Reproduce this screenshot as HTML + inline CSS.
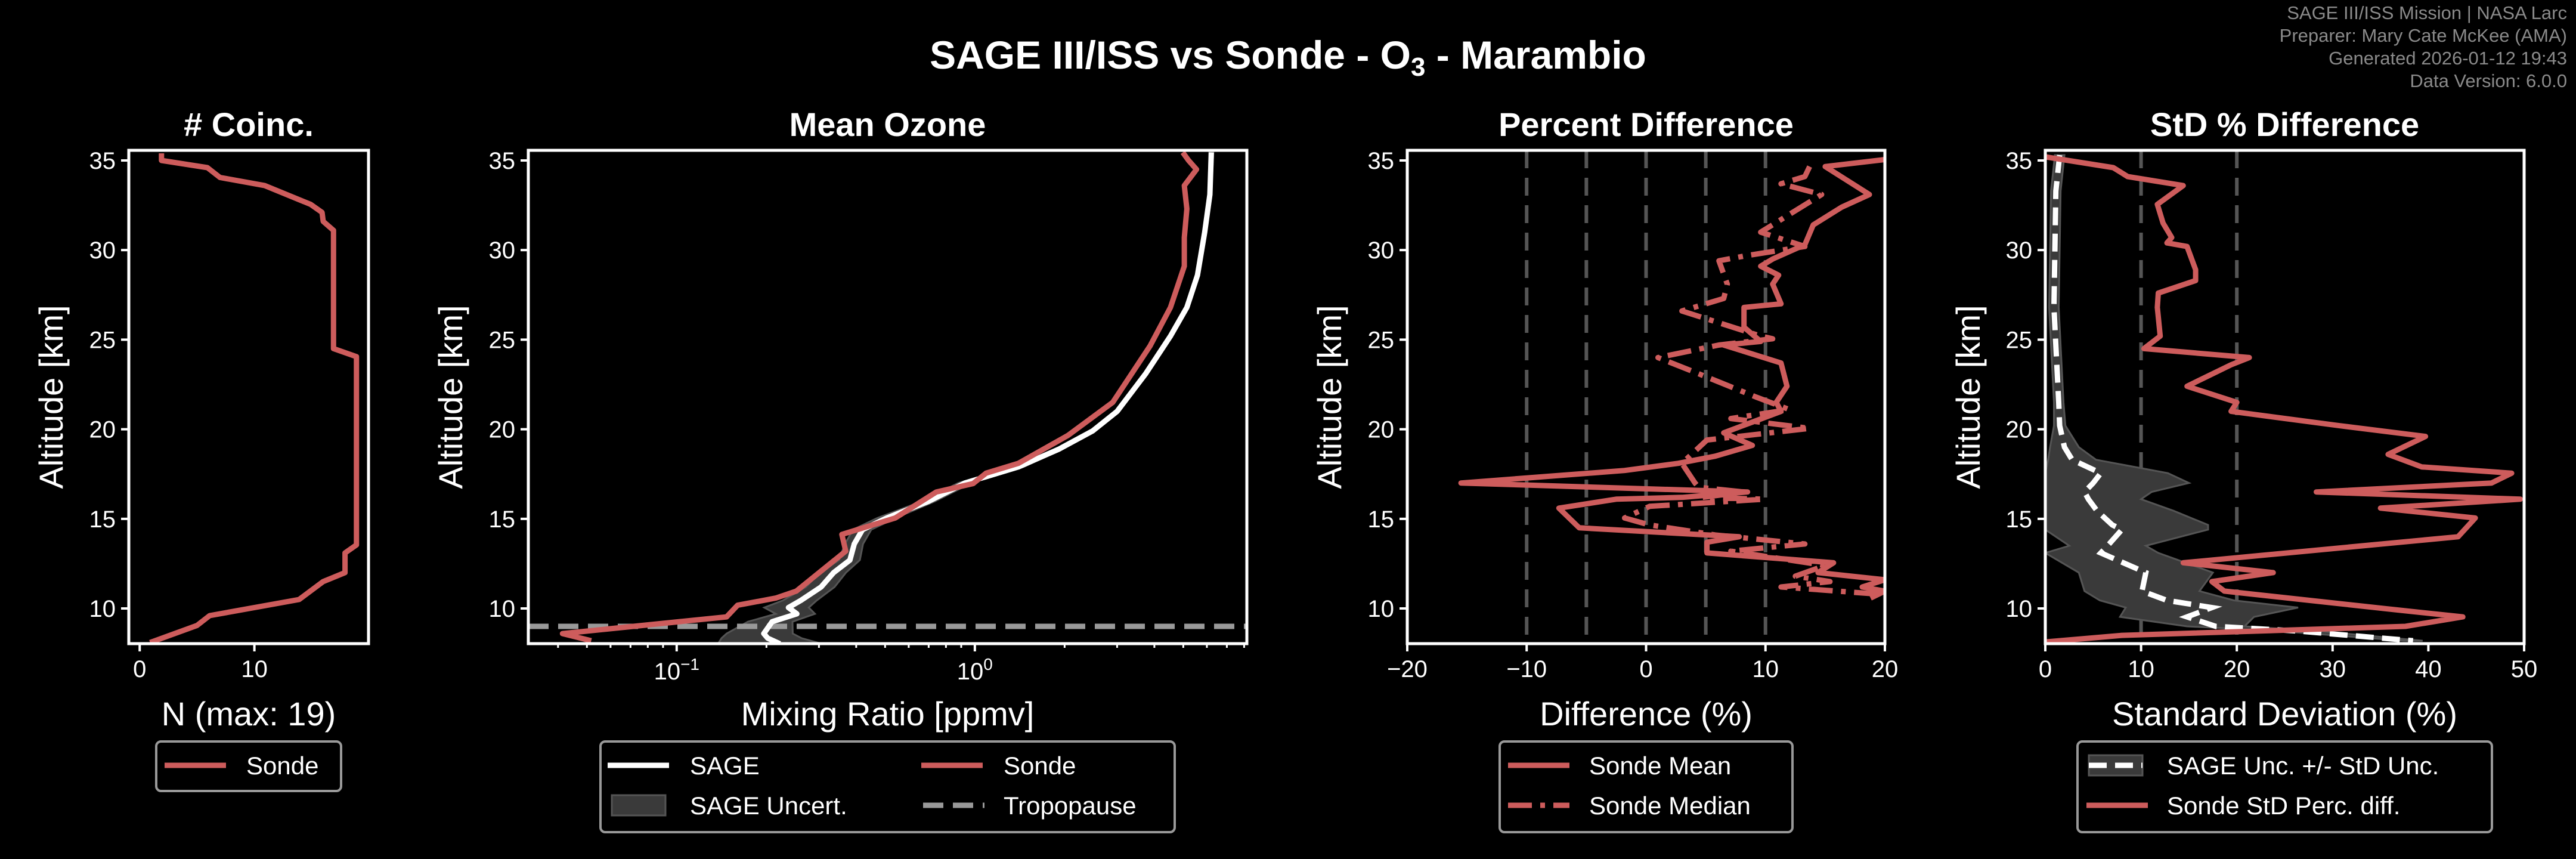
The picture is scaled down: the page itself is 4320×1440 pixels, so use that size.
<!DOCTYPE html>
<html><head><meta charset="utf-8"><style>
html,body{margin:0;padding:0;background:#000;}
svg{display:block;font-family:"Liberation Sans",sans-serif;}
</style></head><body>
<svg id="fig" xmlns="http://www.w3.org/2000/svg" width="4320" height="1440" viewBox="0 0 4320 1440">
<rect width="4320" height="1440" fill="#000"/>
<text x="2160" y="115" text-anchor="middle" font-size="66" font-weight="bold" fill="#fff">SAGE III/ISS vs Sonde - O<tspan font-size="44" dy="12">3</tspan><tspan dy="-12"> - Marambio</tspan></text>
<g fill="#8a8a8a" font-size="31" text-anchor="end">
<text x="4305" y="32">SAGE III/ISS Mission | NASA Larc</text>
<text x="4305" y="70">Preparer: Mary Cate McKee (AMA)</text>
<text x="4305" y="108">Generated 2026-01-12 19:43</text>
<text x="4305" y="146">Data Version: 6.0.0</text>
</g>
<g id="plots"></g>
</svg>
<script>
// ---- data ----
const coincAlt=[35.4,35,34.6,34.05,33.6,32.55,32.1,31.6,31.1,24.5,24.05,13.55,13.1,12,11.5,10.5,9.6,9.05,8.1];
const coincN=[1.9,1.9,5.9,7,10.9,14.9,15.9,16,16.9,16.9,18.9,18.9,17.9,17.9,16,13.9,6.1,5,0.9];

const sageAlt=[35.45,33.1,31.0,28.6,26.8,25.2,23.1,21.0,19.9,18.9,17.9,17.0,15.97,15.05,14.4,13.6,12.7,12.0,11.2,10.45,10.05,9.7,9.26,8.6,8.34,8.03];
const sageO3=[6.21,6.14,5.90,5.58,5.14,4.53,3.74,3.00,2.48,1.92,1.40,0.927,0.697,0.507,0.420,0.394,0.381,0.336,0.305,0.261,0.237,0.253,0.209,0.196,0.202,0.222];
const sageUncPct=[1.5,1.1,1,1,0.9,0.9,1,1.3,1.5,2.5,4,5,5,7,7,7,8,10,11,13,17,15,17,25,30,38];

const sondeAlt=[35.45,35,34.5,33.6,32.3,30.7,29.1,26.8,24.65,21.5,19.65,18.1,17.55,16.97,16.5,15.05,14.13,13.2,10.97,10.58,10.18,9.53,8.6,8.2];
const sondeO3=[4.98,5.21,5.54,5.04,5.14,5.04,5.04,4.53,3.87,2.90,2.05,1.40,1.09,0.987,0.743,0.541,0.358,0.369,0.252,0.215,0.160,0.147,0.0414,0.0517];
const tropopause=9.0;

const meanAlt=[35.05,34.66,33.1,32.4,31.4,30.3,29.5,29.1,28.6,28.1,27.0,26.8,25.7,24.9,24.7,23.7,22.4,21.5,21.0,20.4,19.8,19.1,18.5,18.1,17.7,17.0,16.5,16.2,16.1,15.6,14.5,14.0,13.7,13.1,12.55,12.0,11.6,11.2,10.97,10.58];
const meanDiff=[20,15.0,18.7,16.4,14.0,13.3,10.6,9.6,11.1,10.6,11.3,8.2,8.2,9.6,6.5,11.3,11.8,10.9,11.3,8.9,6.5,8.9,5.8,2.7,-1.8,-15.5,8.5,3.0,-2.5,-7.3,-5.6,7.8,5.1,5.1,15.7,14.4,20,18.1,20,18.8];
const medAlt=[34.66,34.1,33.7,33.1,31.0,30.2,29.7,29.4,28.1,27.3,26.6,25.2,25.05,24.7,24.0,23.1,21.8,21.1,20.6,20.05,19.4,18.1,17.0,16.76,16.5,16.2,16.1,15.7,15.05,14.66,14.1,13.6,13.2,12.4,11.8,11.5,11.2,10.8];
const medDiff=[13.7,13.3,11.3,14.7,9.6,13.3,8.5,6.1,6.8,6.5,3.0,9.6,10.6,6.1,1.0,4.4,9.2,12.0,7.1,13.7,5.1,3.0,4.1,4.4,8.2,4.7,9.9,0.3,-1.8,0.3,5.8,13.3,7.1,15.0,12.5,15.4,11.3,19.5];

const stdAlt=[35.2,34.6,34.1,33.6,32.55,31.5,30.7,30.4,30.2,28.9,28.3,27.6,26.8,25.2,24.5,24.0,23.6,22.4,21.5,21.0,20.2,19.6,18.6,17.9,17.55,17.0,16.5,16.1,15.6,15.05,14.0,12.55,12.0,11.5,10.97,9.92,9.53,9.0,8.5,8.13];
const stdDiff=[0,7.1,8.6,14.4,11.7,12.3,13.2,12.7,14.8,15.7,15.7,11.8,11.7,12.0,10.3,21.3,19.4,14.8,20.0,19.4,30.7,39.7,35.8,39.3,48.7,46.6,28.3,49.6,35.0,44.9,43.1,14.4,23.8,17.4,18.7,36.7,43.6,37.6,8.0,0];
const uncAlt=[35.3,33.3,26.8,21.5,20.2,19.0,18.3,17.55,17.0,16.5,16.1,15.45,14.66,14.4,13.5,13.1,12.0,10.97,10.45,10.05,9.53,9.0,8.74,8.2];
const sageUnc=[1.5,1.1,0.9,1.4,1.5,2.0,2.8,5.8,5.0,4.1,4.5,5.4,7.0,8.0,6.5,5.8,10.5,10.1,12.7,17.4,14.8,17.8,26.4,38.4];
const stdUnc=[0.5,0.5,0.5,0.5,0.6,1.5,2.5,7,10,7,5.5,8,10,9,4,6,7,6,7,9,7,3,2,1];

// ---- layout ----
const NS="http://www.w3.org/2000/svg";
const root=document.getElementById('plots');
const TOP=252,BOT=1079;
const Y=a=>1020-(a-10)*30.04;
const RED="#cd5c5c";
function el(tag,attrs,parent){const e=document.createElementNS(NS,tag);for(const k in attrs)e.setAttribute(k,attrs[k]);(parent||root).appendChild(e);return e;}
function mkX(p){return p.log?(v=>p.l+(Math.log10(v)-Math.log10(p.x0))/(Math.log10(p.x1)-Math.log10(p.x0))*(p.r-p.l)):(v=>p.l+(v-p.x0)/(p.x1-p.x0)*(p.r-p.l));}
function pts(xs,ys,X){return xs.map((v,i)=>X(v).toFixed(1)+','+Y(ys[i]).toFixed(1)).join(' ');}

const panels=[
 {id:'coinc',l:216,r:618,x0:-0.95,x1:19.95,title:'# Coinc.',xlabel:'N (max: 19)',yl:85,ticks:[0,10]},
 {id:'ozone',l:886,r:2091,x0:0.0318,x1:8.17,log:true,title:'Mean Ozone',xlabel:'Mixing Ratio [ppmv]',yl:755},
 {id:'pdiff',l:2360,r:3161,x0:-20,x1:20,title:'Percent Difference',xlabel:'Difference (%)',yl:2229,ticks:[-20,-10,0,10,20]},
 {id:'std',l:3430,r:4233,x0:0,x1:50,title:'StD % Difference',xlabel:'Standard Deviation (%)',yl:3300,ticks:[0,10,20,30,40,50]}
];
const altTicks=[10,15,20,25,30,35];

panels.forEach(p=>{
 const g=el('g',{});
 
 
 const X=mkX(p);p.X=X;
 const clipId='clip-'+p.id;
 const cp=el('clipPath',{id:clipId},g);el('rect',{x:p.l,y:TOP,width:p.r-p.l,height:BOT-TOP},cp);
 p.data=el('g',{'clip-path':'url(#'+clipId+')'},g);
 p.g=g;
 // title
 const t=el('text',{x:(p.l+p.r)/2,y:228,'text-anchor':'middle','font-size':56,'font-weight':'bold',fill:'#fff'},g);t.textContent=p.title;
 
 
 // y ticks
 altTicks.forEach(a=>{el('line',{x1:p.l,x2:p.l-13,y1:Y(a),y2:Y(a),stroke:'#fff','stroke-width':4},g);
  const tt=el('text',{x:p.l-22,y:Y(a)+14,'text-anchor':'end','font-size':40,fill:'#fff'},g);tt.textContent=a;
  
  });
 const yl=el('text',{x:p.yl,y:(TOP+BOT)/2,'text-anchor':'middle','font-size':56,fill:'#fff',transform:'rotate(-90 '+p.yl+' '+(TOP+BOT)/2+')'},g);
 yl.setAttribute('dy','20');yl.textContent='Altitude [km]';
 
 
 // x ticks
 if(p.log){
  for(let d=-2;d<=1;d++)for(let m=1;m<10;m++){const v=m*Math.pow(10,d);if(v<p.x0||v>p.x1)continue;
   const x=X(v);el('line',{x1:x,x2:x,y1:BOT,y2:BOT+(m==1?13:7),stroke:'#fff','stroke-width':m==1?4:3},g);
   if(m==1){const tt=el('text',{x:x,y:BOT+60,'text-anchor':'middle','font-size':40,fill:'#fff'},g);
    tt.innerHTML='10<tspan font-size="28" dy="-16">'+(d<0?'\u2212'+(-d):d)+'</tspan>';
    
    }}
 } else {
  p.ticks.forEach(v=>{const x=X(v);el('line',{x1:x,x2:x,y1:BOT,y2:BOT+13,stroke:'#fff','stroke-width':4},g);
   const tt=el('text',{x:x,y:BOT+56,'text-anchor':'middle','font-size':40,fill:'#fff'},g);tt.textContent=(v<0?'\u2212'+(-v):v);
   
   });
 }
 const xl=el('text',{x:(p.l+p.r)/2,y:1216,'text-anchor':'middle','font-size':56,fill:'#fff'},g);xl.textContent=p.xlabel;
 
 
});

// panel 1
(function(){const p=panels[0];
 const l=el('polyline',{points:pts(coincN,coincAlt,p.X),fill:'none',stroke:RED,'stroke-width':9,'stroke-linejoin':'round'},p.data);
 
 })();

// panel 2
(function(){const p=panels[1];
 const lo=sageO3.map((v,i)=>v*(1-sageUncPct[i]/100)),hi=sageO3.map((v,i)=>v*(1+sageUncPct[i]/100));
 const band=el('polygon',{points:pts(hi,sageAlt,p.X)+' '+pts(lo.slice().reverse(),sageAlt.slice().reverse(),p.X),fill:'#3a3a3a',stroke:'#555','stroke-width':3},p.data);
 
 
 const tp=el('line',{x1:p.l,x2:p.r,y1:Y(tropopause),y2:Y(tropopause),stroke:'#999','stroke-width':9,'stroke-dasharray':'34 16'},p.data);
 
 
 const s=el('polyline',{points:pts(sageO3,sageAlt,p.X),fill:'none',stroke:'#fff','stroke-width':9,'stroke-linejoin':'round'},p.data);
 
 
 const r=el('polyline',{points:pts(sondeO3,sondeAlt,p.X),fill:'none',stroke:RED,'stroke-width':9,'stroke-linejoin':'round'},p.data);
 
 })();

// panel 3
(function(){const p=panels[2];
 [-10,-5,0,5,10].forEach(v=>{const x=p.X(v);const ln=el('line',{x1:x,x2:x,y1:TOP,y2:BOT,stroke:'#555','stroke-width':6,'stroke-dasharray':'30 16'},p.data);
  
  });
 const m=el('polyline',{points:pts(meanDiff,meanAlt,p.X),fill:'none',stroke:RED,'stroke-width':9,'stroke-linejoin':'round'},p.data);
 
 
 const d=el('polyline',{points:pts(medDiff,medAlt,p.X),fill:'none',stroke:RED,'stroke-width':9,'stroke-dasharray':'40 14 8 14','stroke-linejoin':'round'},p.data);
 
 })();

// panel 4
(function(){const p=panels[3];
 [10,20].forEach(v=>{const x=p.X(v);const ln=el('line',{x1:x,x2:x,y1:TOP,y2:BOT,stroke:'#555','stroke-width':6,'stroke-dasharray':'30 16'},p.data);
  
  });
 const lo=sageUnc.map((v,i)=>Math.max(0,v-stdUnc[i])),hi=sageUnc.map((v,i)=>v+stdUnc[i]);
 const band=el('polygon',{points:pts(hi,uncAlt,p.X)+' '+pts(lo.slice().reverse(),uncAlt.slice().reverse(),p.X),fill:'#3a3a3a',stroke:'#555','stroke-width':3},p.data);
 
 
 const w=el('polyline',{points:pts(sageUnc,uncAlt,p.X),fill:'none',stroke:'#fff','stroke-width':9,'stroke-dasharray':'30 14'},p.data);
 
 
 const r=el('polyline',{points:pts(stdDiff,stdAlt,p.X),fill:'none',stroke:RED,'stroke-width':9,'stroke-linejoin':'round'},p.data);
 
 })();

// spines
panels.forEach(p=>{const s=el('rect',{x:p.l,y:TOP,width:p.r-p.l,height:BOT-TOP,fill:'none',stroke:'#fff','stroke-width':5},p.g);
 
 });

// legends
function legend(name,x,y,w,h,items){
 const g=el('g',{});
 
 
 el('rect',{x:x,y:y,width:w,height:h,rx:8,fill:'#000',stroke:'#999','stroke-width':4},g);
 items.forEach(it=>{
  if(it.patch){el('rect',{x:it.x,y:it.y-17,width:90,height:34,fill:'#3a3a3a',stroke:'#555','stroke-width':3},g);}
  if(it.stroke){el('line',{x1:it.x,x2:it.x+(it.patch?90:103),y1:it.y,y2:it.y,stroke:it.stroke,'stroke-width':9,'stroke-dasharray':it.dash||'none'},g);}
  const t=el('text',{x:it.tx,y:it.y+15,'font-size':42,fill:'#fff'},g);t.textContent=it.label;
  
  
 });
}
legend('coinc-legend',262,1243,310,83,[{x:276,y:1283,tx:413,stroke:RED,label:'Sonde'}]);
legend('ozone-legend',1007,1243,963,152,[
 {x:1019,y:1283,tx:1157,stroke:'#fff',label:'SAGE'},
 {x:1545,y:1283,tx:1683,stroke:RED,label:'Sonde'},
 {x:1026,y:1350,tx:1157,patch:true,label:'SAGE Uncert.'},
 {x:1548,y:1350,tx:1683,stroke:'#999',dash:'34 16',label:'Tropopause'}]);
legend('pdiff-legend',2515,1243,491,152,[
 {x:2529,y:1283,tx:2665,stroke:RED,label:'Sonde Mean'},
 {x:2529,y:1350,tx:2665,stroke:RED,dash:'40 14 8 14',label:'Sonde Median'}]);
legend('std-legend',3484,1243,695,152,[
 {x:3503,y:1283,tx:3634,patch:true,stroke:'#fff',dash:'30 14',label:'SAGE Unc. +/- StD Unc.'},
 {x:3499,y:1350,tx:3634,stroke:RED,label:'Sonde StD Perc. diff.'}]);
</script>
</body></html>
